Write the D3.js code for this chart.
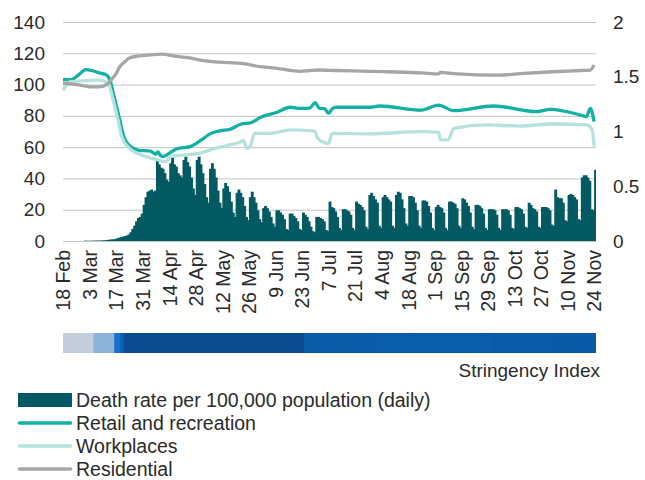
<!DOCTYPE html>
<html>
<head>
<meta charset="utf-8">
<script src="https://cdn.jsdelivr.net/npm/d3@7"></script>
<style>
body { margin: 0; background: #fff; }
text { font-family: "Liberation Sans", Arial, sans-serif; fill: #2b2b2b; }
</style>
</head>
<body>
<div id="chart-area"></div>
<script>
var startDay = '2020-02-18'

// Death rate per 100,000 population (daily), one row per week (Tue .. Mon)
var deathRate = [
    0, 0, 0, 0, 0, 0, 0,
    0, 0, 0, 0, 0.003, 0.002, 0.002,
    0.002, 0.003, 0.003, 0.004, 0.004, 0.004, 0.005,
    0.006, 0.008, 0.01, 0.012, 0.015, 0.015, 0.018,
    0.025, 0.03, 0.035, 0.04, 0.045, 0.05, 0.06,
    0.08, 0.11, 0.14, 0.18, 0.21, 0.22, 0.25,
    0.33, 0.40, 0.45, 0.46, 0.47, 0.45, 0.46,
    0.74, 0.70, 0.67, 0.66, 0.62, 0.56, 0.54,
    0.71, 0.76, 0.70, 0.68, 0.62, 0.60, 0.58,
    0.74, 0.77, 0.72, 0.68, 0.58, 0.48, 0.42,
    0.74, 0.77, 0.70, 0.62, 0.52, 0.40, 0.35,
    0.66, 0.71, 0.66, 0.58, 0.46, 0.35, 0.30,
    0.48, 0.53, 0.50, 0.45, 0.36, 0.26, 0.22,
    0.44, 0.47, 0.44, 0.40, 0.32, 0.22, 0.19,
    0.40, 0.45, 0.40, 0.35, 0.28, 0.20, 0.17,
    0.30, 0.32, 0.30, 0.27, 0.22, 0.16, 0.13,
    0.28, 0.28, 0.26, 0.24, 0.20, 0.11, 0.10,
    0.25, 0.25, 0.23, 0.21, 0.18, 0.11, 0.10,
    0.26, 0.24, 0.22, 0.18, 0.13, 0.09, 0.08,
    0.22, 0.22, 0.21, 0.20, 0.18, 0.10, 0.09,
    0.36, 0.31, 0.30, 0.27, 0.22, 0.12, 0.10,
    0.29, 0.29, 0.28, 0.27, 0.24, 0.12, 0.10,
    0.36, 0.34, 0.33, 0.31, 0.28, 0.13, 0.11,
    0.42, 0.44, 0.41, 0.38, 0.35, 0.14, 0.12,
    0.40, 0.42, 0.40, 0.38, 0.36, 0.14, 0.12,
    0.42, 0.45, 0.44, 0.38, 0.30, 0.16, 0.14,
    0.41, 0.41, 0.40, 0.35, 0.28, 0.14, 0.12,
    0.37, 0.37, 0.36, 0.32, 0.26, 0.12, 0.10,
    0.31, 0.33, 0.31, 0.30, 0.26, 0.12, 0.10,
    0.36, 0.36, 0.35, 0.34, 0.30, 0.14, 0.12,
    0.39, 0.38, 0.35, 0.32, 0.26, 0.13, 0.11,
    0.33, 0.33, 0.32, 0.30, 0.25, 0.12, 0.10,
    0.29, 0.29, 0.29, 0.28, 0.24, 0.12, 0.10,
    0.29, 0.29, 0.29, 0.28, 0.24, 0.12, 0.11,
    0.31, 0.31, 0.30, 0.29, 0.25, 0.13, 0.12,
    0.35, 0.33, 0.30, 0.29, 0.27, 0.13, 0.12,
    0.31, 0.31, 0.31, 0.30, 0.28, 0.15, 0.14,
    0.47, 0.40, 0.39, 0.39, 0.35, 0.19, 0.18,
    0.42, 0.43, 0.42, 0.40, 0.38, 0.20, 0.19,
    0.58, 0.60, 0.60, 0.58, 0.55, 0.29, 0.28,
    0.65
]

// Mobility, % of baseline (+100)
var retail = [
    ['2020-02-18', 103.3], ['2020-02-22', 103], ['2020-02-26', 106], ['2020-03-01', 109.5],
    ['2020-03-04', 109], ['2020-03-08', 107.5], ['2020-03-12', 106], ['2020-03-14', 102],
    ['2020-03-16', 92], ['2020-03-18', 82], ['2020-03-19', 77], ['2020-03-21', 67],
    ['2020-03-25', 60], ['2020-03-29', 58], ['2020-04-04', 57.5], ['2020-04-07', 55.5],
    ['2020-04-08', 57], ['2020-04-10', 53.9], ['2020-04-12', 54.5], ['2020-04-14', 56],
    ['2020-04-18', 59], ['2020-04-25', 60.3], ['2020-05-01', 64.6], ['2020-05-06', 68.8],
    ['2020-05-11', 70.5], ['2020-05-16', 71.4], ['2020-05-22', 74.8], ['2020-05-27', 75.6],
    ['2020-06-01', 79], ['2020-06-09', 82], ['2020-06-17', 85.5], ['2020-06-22', 84.8],
    ['2020-06-27', 85], ['2020-06-30', 88.4], ['2020-07-02', 85], ['2020-07-05', 84.5],
    ['2020-07-07', 81.6], ['2020-07-09', 84.5], ['2020-07-11', 85.5], ['2020-07-29', 85.5],
    ['2020-08-03', 86.3], ['2020-08-25', 83.7], ['2020-09-03', 86.9], ['2020-09-11', 83.3],
    ['2020-10-02', 86.3], ['2020-10-25', 82.7], ['2020-11-01', 84.2], ['2020-11-17', 80.5],
    ['2020-11-20', 79.5], ['2020-11-22', 84.8], ['2020-11-24', 76.3]
]

var workplaces = [
    ['2020-02-18', 96.5], ['2020-02-22', 101.8], ['2020-03-01', 102.5], ['2020-03-08', 102.9],
    ['2020-03-12', 101.5], ['2020-03-13', 100.8], ['2020-03-15', 92.3], ['2020-03-18', 77.4],
    ['2020-03-20', 66.7], ['2020-03-24', 59.2], ['2020-03-29', 55.6], ['2020-04-07', 52.2],
    ['2020-04-12', 50.7], ['2020-04-15', 53.9], ['2020-04-22', 55], ['2020-05-01', 56.4],
    ['2020-05-08', 59.2], ['2020-05-16', 61.4], ['2020-05-22', 63.5], ['2020-05-23', 64.5],
    ['2020-05-25', 59.2], ['2020-05-27', 61.4], ['2020-05-29', 68.8], ['2020-06-06', 68.8],
    ['2020-06-17', 71], ['2020-06-27', 70.5], ['2020-06-30', 70], ['2020-07-01', 66],
    ['2020-07-05', 62.9], ['2020-07-07', 62.4], ['2020-07-09', 68.8], ['2020-07-29', 68.5],
    ['2020-08-25', 69.9], ['2020-09-03', 69.5], ['2020-09-04', 64.6], ['2020-09-08', 64.6],
    ['2020-09-11', 72], ['2020-09-29', 74.2], ['2020-10-16', 73.5], ['2020-11-02', 74.8],
    ['2020-11-20', 74.2], ['2020-11-23', 71], ['2020-11-24', 60.3]
]

var residential = [
    ['2020-02-18', 101], ['2020-02-22', 100.5], ['2020-03-01', 99], ['2020-03-03', 98.5],
    ['2020-03-08', 98.5], ['2020-03-12', 100], ['2020-03-14', 102.5], ['2020-03-17', 107],
    ['2020-03-19', 111.5], ['2020-03-22', 115], ['2020-03-24', 117], ['2020-03-29', 118.3],
    ['2020-04-04', 119], ['2020-04-10', 119.5], ['2020-04-18', 118], ['2020-04-25', 117],
    ['2020-05-01', 115.5], ['2020-05-08', 114.5], ['2020-05-16', 114], ['2020-05-22', 113.5],
    ['2020-06-01', 111.5], ['2020-06-09', 110.5], ['2020-06-17', 109], ['2020-06-22', 108.5],
    ['2020-06-27', 109], ['2020-07-02', 109.3], ['2020-07-11', 109], ['2020-07-29', 108.5],
    ['2020-08-07', 108.2], ['2020-08-25', 107.5], ['2020-09-03', 106.8], ['2020-09-04', 107.8],
    ['2020-09-11', 107], ['2020-10-04', 106], ['2020-10-16', 107], ['2020-11-02', 108.2],
    ['2020-11-17', 109], ['2020-11-22', 109.3], ['2020-11-24', 112.5]
]

// Stringency index, value from each date on
var stringencyDates = ['2020-02-18', '2020-03-05', '2020-03-16', '2020-03-19', '2020-03-21',
    '2020-06-24', '2020-08-01', '2020-10-01', '2020-11-01']
var stringencyValues = [11, 25, 50, 62, 80, 72, 69, 71, 73]

var tickDates = ['2020-02-18', '2020-03-03', '2020-03-17', '2020-03-31', '2020-04-14',
    '2020-04-28', '2020-05-12', '2020-05-26', '2020-06-09', '2020-06-23', '2020-07-07',
    '2020-07-21', '2020-08-04', '2020-08-18', '2020-09-01', '2020-09-15', '2020-09-29',
    '2020-10-13', '2020-10-27', '2020-11-10', '2020-11-24']

var leftTicks = [0, 20, 40, 60, 80, 100, 120, 140]
var rightTicks = [0, 0.5, 1, 1.5, 2]

var parse = d3.timeParse('%Y-%m-%d')
var start = parse(startDay)
var end = d3.timeDay.offset(start, deathRate.length)

var svg = d3.select('#chart-area')
    .append('svg')
        .attr('width', 645)
        .attr('height', 480)

// Scales
var x = d3.scaleTime()
    .domain([start, end])
    .range([63, 596])

var yL = d3.scaleLinear()
    .domain([0, 140])
    .range([241, 22])

var yR = d3.scaleLinear()
    .domain([0, 2])
    .range([241, 22])

// gridlines
svg.append('g')
    .selectAll('line')
    .data(leftTicks)
    .enter().append('line')
        .attr('x1', x.range()[0])
        .attr('x2', x.range()[1])
        .attr('y1', d => yL(d) + 0.5)
        .attr('y2', d => yL(d) + 0.5)
        .attr('stroke', '#c4c4c4')
        .attr('stroke-width', 1)

// bars (slight overlap so no seams show between days)
var barData = deathRate.map((v, i) => ({ date: d3.timeDay.offset(start, i), value: v }))

svg.append('g')
    .selectAll('rect')
    .data(barData)
    .enter().append('rect')
        .attr('x', d => x(d.date))
        .attr('width', (d, i) => x(d3.timeDay.offset(d.date, 1)) - x(d.date) + (i < barData.length - 1 ? 1 : 0))
        .attr('y', d => yR(d.value))
        .attr('height', d => yR(0) - yR(d.value))
        .attr('fill', '#035a62')

// lines
var line = d3.line()
    .x(d => x(parse(d[0])))
    .y(d => yL(d[1]))
    .curve(d3.curveMonotoneX)

var series = [
    { data: retail, color: '#13b0a5' },
    { data: workplaces, color: '#b5e2de' },
    { data: residential, color: '#a6a6a6' }
]

series.forEach(s => {
    svg.append('path')
        .datum(s.data)
        .attr('d', line)
        .attr('fill', 'none')
        .attr('stroke', s.color)
        .attr('stroke-width', 3.3)
        .attr('stroke-linejoin', 'round')
})

// Left axis
var yAxisL = svg.append('g')
    .attr('transform', 'translate(45, 0)')
    .call(d3.axisLeft(yL).tickValues(leftTicks).tickSize(0).tickPadding(0))
yAxisL.select('.domain').remove()
yAxisL.selectAll('text')
    .attr('font-size', '19px')
    .attr('font-family', null)
    .attr('fill', null)

// Right axis
var yAxisR = svg.append('g')
    .attr('transform', 'translate(613, 0)')
    .call(d3.axisRight(yR).tickValues(rightTicks).tickSize(0).tickPadding(0).tickFormat(d => d))
yAxisR.select('.domain').remove()
yAxisR.selectAll('text')
    .attr('font-size', '19px')
    .attr('font-family', null)
    .attr('fill', null)

// X axis labels
var xAxis = svg.append('g')
    .attr('transform', 'translate(0, 250)')
    .call(d3.axisBottom(x)
        .tickValues(tickDates.map(parse))
        .tickFormat(d3.timeFormat('%-d %b'))
        .tickSize(0))
xAxis.select('.domain').remove()
xAxis.selectAll('text')
    .attr('font-size', '19.5px')
    .attr('font-family', null)
    .attr('fill', null)
    .attr('text-anchor', 'end')
    .attr('transform', 'rotate(-90)')
    .attr('x', 0)
    .attr('y', 0)
    .attr('dy', '0.35em')

// Stringency index strip
var stringencyColor = d3.scaleLinear()
    .domain([11, 25, 50, 62, 73, 80])
    .range(['#c3cfdb', '#8db4da', '#1a72cc', '#0b62b6', '#0b5aa8', '#0a4d90'])

var sDates = stringencyDates.map(parse)
var days = d3.timeDay.range(start, end)

svg.append('g')
    .selectAll('rect')
    .data(days)
    .enter().append('rect')
        .attr('x', d => x(d))
        .attr('width', (d, i) => x(d3.timeDay.offset(d, 1)) - x(d) + (i < days.length - 1 ? 1 : 0))
        .attr('y', 333)
        .attr('height', 20)
        .attr('fill', d => stringencyColor(stringencyValues[d3.bisectRight(sDates, d) - 1]))

svg.append('text')
    .attr('x', 600)
    .attr('y', 377)
    .attr('text-anchor', 'end')
    .attr('font-size', '19px')
    .text('Stringency Index')

// Legend
var legendItems = [
    { label: 'Death rate per 100,000 population (daily)', color: '#035a62', type: 'bar' },
    { label: 'Retail and recreation', color: '#13b0a5', type: 'line' },
    { label: 'Workplaces', color: '#b5e2de', type: 'line' },
    { label: 'Residential', color: '#a6a6a6', type: 'line' }
]

var legend = svg.append('g')
    .attr('transform', 'translate(18, 400)')

legendItems.forEach((item, i) => {
    var row = legend.append('g')
        .attr('transform', `translate(0, ${i * 23})`)
    if (item.type === 'bar') {
        row.append('rect')
            .attr('x', 0)
            .attr('y', -7)
            .attr('width', 54)
            .attr('height', 14)
            .attr('fill', item.color)
    } else {
        row.append('line')
            .attr('x1', 1.5)
            .attr('x2', 52.5)
            .attr('stroke', item.color)
            .attr('stroke-width', 3.5)
            .attr('stroke-linecap', 'round')
    }
    row.append('text')
        .attr('x', 58)
        .attr('y', 7)
        .attr('font-size', '19.5px')
        .text(item.label)
})
</script>
</body>
</html>
